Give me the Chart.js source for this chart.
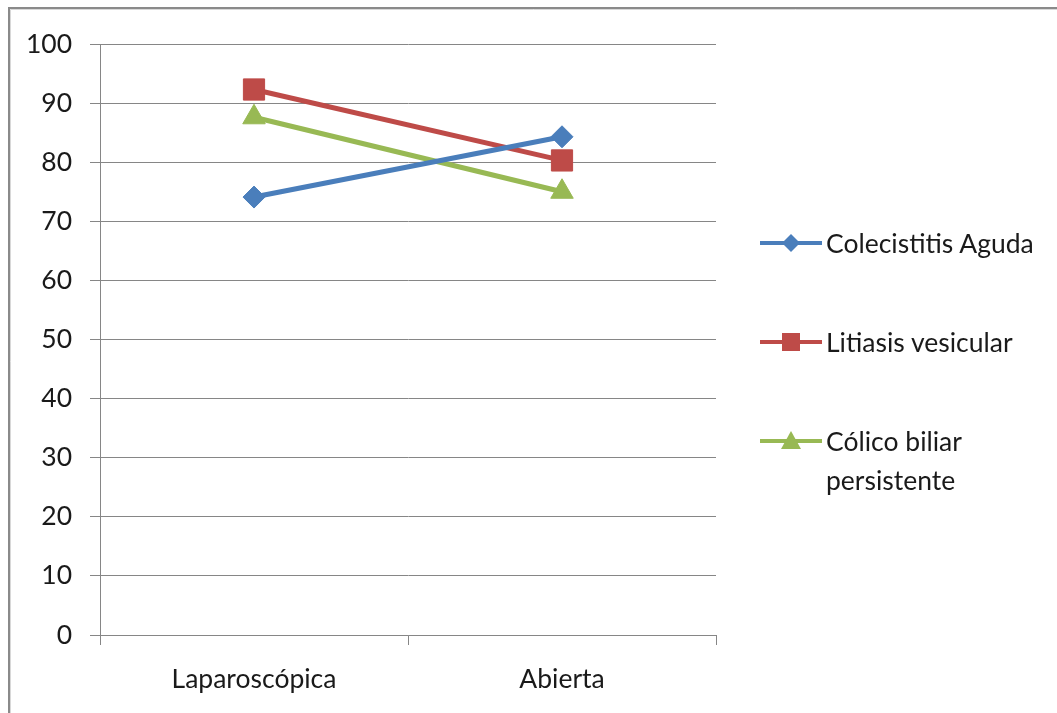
<!DOCTYPE html>
<html><head><meta charset="utf-8">
<script src="https://cdn.jsdelivr.net/npm/chart.js@4.4.1/dist/chart.umd.min.js"></script>
<style>
html,body{margin:0;padding:0;background:#fff;}
#wrap{position:relative;width:1057px;height:713px;overflow:hidden;}
#c{position:absolute;left:0;top:0;}
.leg{position:absolute;left:760px;font-family:Lato,'Open Sans',sans-serif;font-size:26.5px;color:#1a1a1a;display:flex;align-items:flex-start;line-height:39px;}
.leg svg{flex:0 0 auto;margin-top:0;}
.leg span{margin-left:4px;width:215px;}
</style></head><body>
<div id="wrap"><canvas id="c" width="1057" height="713"></canvas><div id="legend"></div></div>
<script>
const categories = ['Laparoscópica', 'Abierta'];
const seriesNames = ['Colecistitis Aguda', 'Litiasis vesicular', 'Cólico biliar persistente'];
const colecistitisAguda = [74.1, 84.3];
const litiasisVesicular = [92.3, 80.3];
const colicoBiliar = [87.6, 75.0];
const yTickValues = [0, 10, 20, 30, 40, 50, 60, 70, 80, 90, 100];

const colors = ['#4A7EBB', '#BE4B48', '#98B954'];
const styles = ['rectRot', 'rect', 'triangle'];
const radii = [11, 15, 13];
const seriesData = [colecistitisAguda, litiasisVesicular, colicoBiliar];
const FONT = {family: 'Lato, "Open Sans", sans-serif', size: 26.5};
const GRID = '#868686';

const frame = {
  id: 'frame',
  beforeDraw(chart) {
    const ctx = chart.ctx;
    ctx.save();
    ctx.strokeStyle = '#8a8a8a';
    ctx.lineWidth = 2;
    ctx.beginPath();
    ctx.moveTo(9, 713); ctx.lineTo(9, 8); ctx.lineTo(1057, 8);
    ctx.stroke();
    ctx.strokeStyle = '#d8d8d8';
    ctx.lineWidth = 1;
    ctx.beginPath();
    ctx.moveTo(10.5, 713); ctx.lineTo(10.5, 9.5); ctx.lineTo(1057, 9.5);
    ctx.stroke();
    ctx.restore();
  }
};

new Chart(document.getElementById('c'), {
  type: 'line',
  data: {
    labels: categories,
    datasets: seriesNames.map((n, i) => ({
      label: n,
      data: seriesData[i],
      borderColor: colors[i],
      backgroundColor: colors[i],
      borderWidth: 5,
      pointStyle: styles[i],
      pointRadius: radii[i],
      pointHoverRadius: radii[i],
      pointBorderWidth: 1,
      pointBorderColor: colors[i],
      tension: 0
    }))
  },
  options: {
    responsive: false,
    animation: false,
    devicePixelRatio: 1,
    layout: {padding: {top: 44, right: 341, left: 0, bottom: 0}},
    plugins: {legend: {display: false}, tooltip: {enabled: false}},
    scales: {
      x: {
        type: 'category',
        offset: true,
        grid: {offset: true, drawOnChartArea: false, drawTicks: true, tickLength: 10, color: GRID, lineWidth: 1},
        border: {color: GRID, width: 1},
        ticks: {font: FONT, color: '#1a1a1a', padding: 19, maxRotation: 0},
        afterFit(s) { s.height = 78; }
      },
      y: {
        min: 0, max: 100,
        afterBuildTicks(s) { s.ticks = yTickValues.map(v => ({value: v})); },
        grid: {color: GRID, lineWidth: 1, tickLength: 10},
        border: {color: GRID, width: 1},
        ticks: {font: FONT, color: '#1a1a1a', padding: 18},
        afterFit(s) { s.width = 100; }
      }
    }
  },
  plugins: [frame]
});

// HTML legend
const legendTops = [224, 323, 422];
const legend = document.getElementById('legend');
seriesNames.forEach((n, i) => {
  const d = document.createElement('div');
  d.className = 'leg';
  d.style.top = legendTops[i] + 'px';
  let mk = '';
  const c = colors[i];
  if (styles[i] === 'rectRot') mk = `<polygon points="31,10 40,19 31,28 22,19" fill="${c}"/>`;
  else if (styles[i] === 'rect') mk = `<rect x="22" y="10" width="18" height="18" fill="${c}"/>`;
  else mk = `<polygon points="31,9 41,27 21,27" fill="${c}"/>`;
  d.innerHTML = `<svg width="62" height="39"><line x1="0" y1="19" x2="62" y2="19" stroke="${c}" stroke-width="4"/>${mk}</svg><span>${n}</span>`;
  legend.appendChild(d);
});
</script>
</body></html>
